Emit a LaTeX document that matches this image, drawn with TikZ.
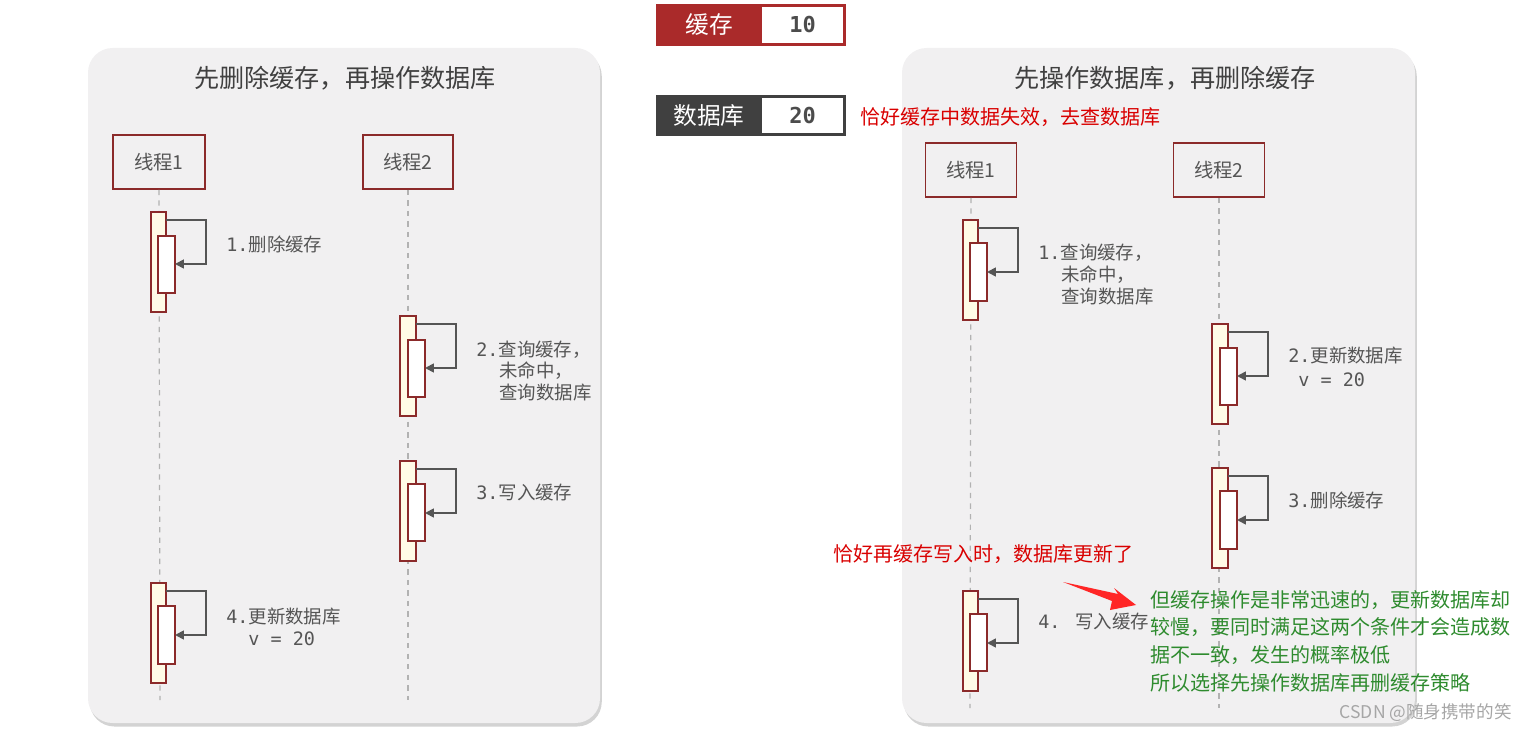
\documentclass[tikz,border=0pt]{standalone}
\usepackage{fontspec}
\setmainfont{Noto Sans CJK SC}
\newfontfamily\mono{DejaVu Sans Mono}
\usetikzlibrary{shadows,arrows.meta}
\definecolor{dred}{HTML}{8B2A2A}
\definecolor{cream}{HTML}{FFFBE6}
\definecolor{pan}{HTML}{F1F0F1}
\definecolor{lbl}{HTML}{555555}
\definecolor{gtext}{HTML}{2E8B2E}
\definecolor{cachered}{HTML}{AA2A2A}
\tikzset{
 panel/.style={draw=none,fill=pan,rounded corners=14pt,drop shadow={shadow xshift=1pt,shadow yshift=-2pt,opacity=.35}},
 thread/.style={draw=dred,line width=0.9pt,fill=pan,font=\fontsize{11}{13}\selectfont,text=lbl},
 outer/.style={draw=dred,line width=0.8pt,fill=cream},
 inner/.style={draw=dred,line width=0.8pt,fill=white},
 loop/.style={draw=lbl,line width=1pt,-{Triangle[length=5pt,width=5pt]}},
 life/.style={draw=gray!60,dashed,line width=0.7pt},
 lab/.style={anchor=west,text=lbl,font=\fontsize{10.5}{12}\selectfont,inner sep=0pt},
 ttl/.style={font=\fontsize{14.3}{16}\selectfont,text=black!75},
 redt/.style={text=red!85!black,anchor=west,inner sep=0pt,font=\fontsize{11.4}{13}\selectfont},
 grt/.style={text=gtext,anchor=west,inner sep=0pt,font=\fontsize{11.4}{13}\selectfont},
}
\begin{document}
\begin{tikzpicture}[x=0.02cm,y=-0.02cm]
\useasboundingbox (0,0) rectangle (1527,732);
% panels
\fill[panel] (88,48) rectangle (600,723);
\fill[panel] (902,48) rectangle (1415,723);
\node[ttl] (t1) at (345,78) {先删除缓存，再操作数据库};
\node[ttl] (t2) at (1165,78) {先操作数据库，再删除缓存};
% legend
\node[draw=none,fill=cachered,minimum width=190*0.02cm,minimum height=42*0.02cm,inner sep=0pt] (cb) at (751,25) {};
\node[fill=white,minimum width=81*0.02cm,minimum height=36*0.02cm,inner sep=0pt,font=\mono\bfseries\fontsize{12.5}{14}\selectfont,text=black!70] (cv) at (802.5,25) {10};
\node[text=white,font=\fontsize{13.5}{15}\selectfont] (cl) at (709,25) {缓存};
\node[fill=black!75,minimum width=190*0.02cm,minimum height=41*0.02cm,inner sep=0pt] (db) at (751,115.5) {};
\node[fill=white,minimum width=81*0.02cm,minimum height=35*0.02cm,inner sep=0pt,font=\mono\bfseries\fontsize{12.5}{14}\selectfont,text=black!70] (dv) at (802.5,115.5) {20};
\node[text=white,font=\fontsize{13.5}{15}\selectfont] (dl) at (709,115.5) {数据库};
\node[redt] (r1) at (860,117) {恰好缓存中数据失效，去查数据库};
% ---------- left ----------
\node[thread,minimum width=92*0.02cm,minimum height=54*0.02cm] (L1) at (159,162) {线程1};
\node[thread,minimum width=90*0.02cm,minimum height=54*0.02cm] (L2) at (408,162) {线程2};
\coordinate (L1e) at (160,700); \coordinate (L2e) at (408,700);
\draw[life] (L1.south) -- (L1e);
\draw[life] (L2.south) -- (L2e);
% step1
\draw[outer] (151,212) rectangle (166,312);
\draw[inner] (158,236) rectangle (175,293);
\draw[loop] (166,220) -- (206,220) -- (206,264) -- (175,264);
\node[lab] (a1) at (226,244) {{\mono 1.}删除缓存};
% step2
\draw[outer] (400,316) rectangle (416,416);
\draw[inner] (408,340) rectangle (425,397);
\draw[loop] (416,324) -- (456,324) -- (456,368) -- (425,368);
\node[lab] (a2) at (476,350) {{\mono 2.}查询缓存，};
\node[lab] (a2b) at (499,371) {未命中，};
\node[lab] (a2c) at (499,393) {查询数据库};
% step3
\draw[outer] (400,461) rectangle (416,561);
\draw[inner] (408,484) rectangle (425,541);
\draw[loop] (416,469) -- (456,469) -- (456,513) -- (425,513);
\node[lab] (a3) at (476,493) {{\mono 3.}写入缓存};
% step4
\draw[outer] (151,583) rectangle (166,683);
\draw[inner] (158,606) rectangle (175,664);
\draw[loop] (166,591) -- (206,591) -- (206,635) -- (175,635);
\node[lab] (a4) at (226,616) {{\mono 4.}更新数据库};
\node[lab] (a4b) at (248,639) {\mono v = 20};
% ---------- right ----------
\node[thread,minimum width=91*0.02cm,minimum height=54*0.02cm] (R1) at (971,170) {线程1};
\node[thread,minimum width=91*0.02cm,minimum height=54*0.02cm] (R2) at (1219,170) {线程2};
\coordinate (R1e) at (970,708); \coordinate (R2e) at (1219,708);
\draw[life] (R1.south) -- (R1e);
\draw[life] (R2.south) -- (R2e);
\draw[outer] (963,220) rectangle (978,320);
\draw[inner] (970,243) rectangle (987,301);
\draw[loop] (978,228) -- (1018,228) -- (1018,272) -- (987,272);
\node[lab] (b1) at (1038,253) {{\mono 1.}查询缓存，};
\node[lab] (b1b) at (1061,275) {未命中，};
\node[lab] (b1c) at (1061,297) {查询数据库};
\draw[outer] (1212,324) rectangle (1228,424);
\draw[inner] (1220,348) rectangle (1237,405);
\draw[loop] (1228,332) -- (1268,332) -- (1268,376) -- (1237,376);
\node[lab] (b2) at (1288,356) {{\mono 2.}更新数据库};
\node[lab] (b2b) at (1298,380) {\mono v = 20};
\draw[outer] (1212,468) rectangle (1228,568);
\draw[inner] (1220,491) rectangle (1237,549);
\draw[loop] (1228,476) -- (1268,476) -- (1268,520) -- (1237,520);
\node[lab] (b3) at (1288,500) {{\mono 3.}删除缓存};
\draw[outer] (963,591) rectangle (978,691);
\draw[inner] (970,614) rectangle (987,671);
\draw[loop] (978,599) -- (1018,599) -- (1018,643) -- (987,643);
\node[lab] (b4) at (1038,622) {{\mono 4. }写入缓存};
% annotations
\node[redt] (r2) at (833,554) {恰好再缓存写入时，数据库更新了};
\coordinate (ra) at (1063,582); \coordinate (rb) at (1136,605);
\fill[red!85!white] (ra) -- (1118,594) -- (1114,588) -- (rb) -- (1110,610) -- (1112,601) -- cycle;
\node[grt] (g1) at (1150,600) {但缓存操作是非常迅速的，更新数据库却};
\node[grt] (g2) at (1150,627) {较慢，要同时满足这两个条件才会造成数};
\node[grt] (g3) at (1150,655) {据不一致，发生的概率极低};
\node[grt] (g4) at (1150,683) {所以选择先操作数据库再删缓存策略};
\node[anchor=east,text=gray!70,font=\fontsize{10}{12}\selectfont,inner sep=0pt] (wm) at (1512,713) {CSDN @随身携带的笑};
\end{tikzpicture}
\end{document}
